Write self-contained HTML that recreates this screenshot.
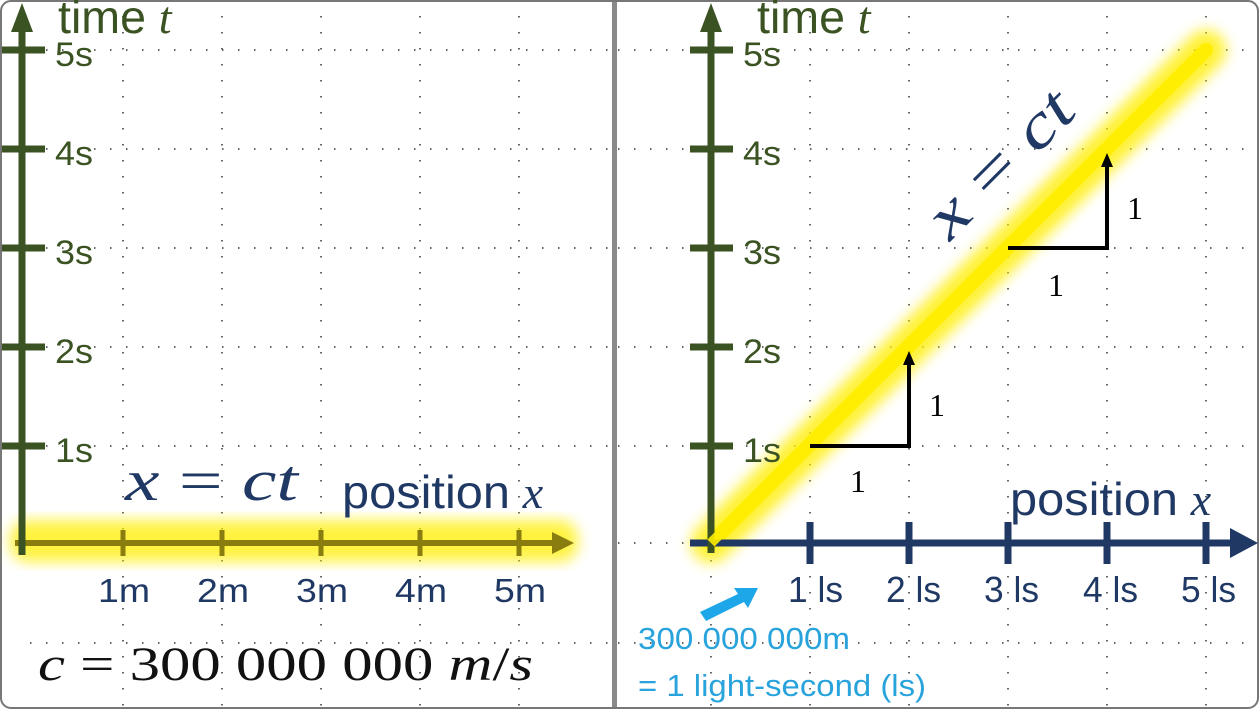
<!DOCTYPE html>
<html><head><meta charset="utf-8"><style>
html,body{margin:0;padding:0;background:#fff;}
svg{display:block;}
</style></head><body>
<svg width="1259" height="709" viewBox="0 0 1259 709" xmlns="http://www.w3.org/2000/svg" font-family="Liberation Sans, sans-serif">
<defs>
<filter id="blur" x="-20%" y="-20%" width="140%" height="140%"><feGaussianBlur stdDeviation="7"/></filter>
<marker id="ah" markerWidth="14" markerHeight="14" refX="7" refY="7" orient="auto" markerUnits="userSpaceOnUse"><path d="M0,1 L14,7 L0,13 z" fill="#000"/></marker>
</defs>
<rect width="1259" height="709" fill="#fff"/>
<g stroke="#666" stroke-width="2" stroke-dasharray="1.5 14.5">
 <path d="M123,0V709 M222,0V709 M321,0V709 M420,0V709 M519,0V709"/>
 <path d="M30,50H612 M30,149H612 M30,248H612 M30,347H612 M30,446H612 M30,643H612"/>
 <path d="M711,0V709 M810,0V709 M909,0V709 M1008,0V709 M1107,0V709 M1206,0V709"/>
 <path d="M618,50H1259 M618,149H1259 M618,248H1259 M618,347H1259 M618,446H1259 M618,643H1259 M618,543H700"/>
</g>
<rect x="612" y="0" width="5" height="709" fill="#8a8a8a"/>
<rect x="1" y="1" width="1257" height="707" rx="10" fill="none" stroke="#777" stroke-width="2"/>

<!-- LEFT PANEL -->
<rect x="10" y="520" width="568" height="42" rx="18" fill="#ffee00" opacity="0.75" filter="url(#blur)"/>
<line x1="15" y1="543" x2="555" y2="543" stroke="#8a7d10" stroke-width="6"/>
<path d="M552,532 L574,543 L552,554 z" fill="#8a7d10"/>
<g stroke="#8a7d10" stroke-width="5"><path d="M123,530V556 M222,530V556 M321,530V556 M420,530V556 M519,530V556"/></g>
<line x1="22" y1="25" x2="22" y2="555" stroke="#3b5323" stroke-width="7"/>
<path d="M11,32 L22,3 L33,32 z" fill="#3b5323"/>
<g stroke="#3b5323" stroke-width="7"><path d="M2,50H45 M2,149H45 M2,248H45 M2,347H45 M2,446H45"/></g>
<g fill="#3b5323" font-size="34">
<text x="58" y="33" font-size="46"><tspan textLength="88" lengthAdjust="spacingAndGlyphs">time</tspan> <tspan font-family="Liberation Serif, serif" font-style="italic">t</tspan></text>
<text x="55" y="66" textLength="38" lengthAdjust="spacingAndGlyphs">5s</text>
<text x="55" y="165" textLength="38" lengthAdjust="spacingAndGlyphs">4s</text>
<text x="55" y="264" textLength="38" lengthAdjust="spacingAndGlyphs">3s</text>
<text x="55" y="363" textLength="38" lengthAdjust="spacingAndGlyphs">2s</text>
<text x="55" y="462" textLength="38" lengthAdjust="spacingAndGlyphs">1s</text>
</g>
<g fill="#1f3864" font-size="33">
<text x="98" y="602" textLength="52" lengthAdjust="spacingAndGlyphs">1m</text>
<text x="197" y="602" textLength="52" lengthAdjust="spacingAndGlyphs">2m</text>
<text x="296" y="602" textLength="52" lengthAdjust="spacingAndGlyphs">3m</text>
<text x="395" y="602" textLength="52" lengthAdjust="spacingAndGlyphs">4m</text>
<text x="494" y="602" textLength="52" lengthAdjust="spacingAndGlyphs">5m</text>
<text x="342" y="508" font-size="46"><tspan textLength="168" lengthAdjust="spacingAndGlyphs">position</tspan> <tspan font-family="Liberation Serif, serif" font-style="italic">x</tspan></text>
</g>
<text x="125" y="500" font-family="Liberation Serif, serif" font-size="58" fill="#1f3864" textLength="173" lengthAdjust="spacingAndGlyphs"><tspan font-style="italic">x</tspan> = <tspan font-style="italic">ct</tspan></text>
<text x="38" y="680" font-family="Liberation Serif, serif" font-size="48" fill="#111" textLength="495" lengthAdjust="spacingAndGlyphs"><tspan font-style="italic">c</tspan> = 300 000 000 <tspan font-style="italic">m</tspan>/<tspan font-style="italic">s</tspan></text>

<!-- RIGHT PANEL -->
<line x1="711" y1="543" x2="1206" y2="50" stroke="#ffee00" stroke-width="40" stroke-linecap="round" opacity="0.8" filter="url(#blur)"/>
<line x1="711" y1="543" x2="1206" y2="50" stroke="#ffee00" stroke-width="14" stroke-linecap="round"/>
<line x1="690" y1="543" x2="1235" y2="543" stroke="#1f3864" stroke-width="7"/>
<path d="M1230,528 L1258,543 L1230,558 z" fill="#1f3864"/>
<g stroke="#1f3864" stroke-width="7"><path d="M810,522V564 M909,522V564 M1008,522V564 M1107,522V564 M1206,522V564"/></g>
<line x1="711" y1="25" x2="711" y2="553" stroke="#3b5323" stroke-width="7"/>
<path d="M700,32 L711,3 L722,32 z" fill="#3b5323"/>
<g stroke="#3b5323" stroke-width="7"><path d="M690,50H733 M690,149H733 M690,248H733 M690,347H733 M690,446H733"/></g>
<line x1="711" y1="543" x2="735" y2="519" stroke="#ffee00" stroke-width="10" opacity="0.9"/>
<g fill="#3b5323" font-size="34">
<text x="757" y="33" font-size="46"><tspan textLength="88" lengthAdjust="spacingAndGlyphs">time</tspan> <tspan font-family="Liberation Serif, serif" font-style="italic">t</tspan></text>
<text x="743" y="66" textLength="38" lengthAdjust="spacingAndGlyphs">5s</text>
<text x="743" y="165" textLength="38" lengthAdjust="spacingAndGlyphs">4s</text>
<text x="743" y="264" textLength="38" lengthAdjust="spacingAndGlyphs">3s</text>
<text x="743" y="363" textLength="38" lengthAdjust="spacingAndGlyphs">2s</text>
<text x="743" y="462" textLength="38" lengthAdjust="spacingAndGlyphs">1s</text>
</g>
<g fill="#1f3864" font-size="36">
<text x="788" y="602" textLength="55" lengthAdjust="spacingAndGlyphs">1 ls</text>
<text x="886" y="602" textLength="55" lengthAdjust="spacingAndGlyphs">2 ls</text>
<text x="984" y="602" textLength="55" lengthAdjust="spacingAndGlyphs">3 ls</text>
<text x="1083" y="602" textLength="55" lengthAdjust="spacingAndGlyphs">4 ls</text>
<text x="1181" y="602" textLength="55" lengthAdjust="spacingAndGlyphs">5 ls</text>
<text x="1010" y="515" font-size="46"><tspan textLength="168" lengthAdjust="spacingAndGlyphs">position</tspan> <tspan font-family="Liberation Serif, serif" font-style="italic">x</tspan></text>
</g>
<text transform="translate(950,242) rotate(-45)" font-family="Liberation Serif, serif" font-size="62" fill="#1f3864" textLength="182" lengthAdjust="spacingAndGlyphs"><tspan font-style="italic">x</tspan> = <tspan font-style="italic">ct</tspan></text>
<g stroke="#000" stroke-width="4" fill="none">
<path d="M810,446H909V358" marker-end="url(#ah)"/>
<path d="M1008,248H1107V160" marker-end="url(#ah)"/>
</g>
<g font-family="Liberation Serif, serif" font-size="32" fill="#000">
<text x="850" y="492">1</text><text x="929" y="416">1</text>
<text x="1048" y="296">1</text><text x="1127" y="219">1</text>
</g>
<path d="M700,612 L738,594 L734,588 L758,588 L748,608 L744,602 L706,621 z" fill="#1ea7e8"/>
<g fill="#29a3dc" font-size="31">
<text x="638" y="649" textLength="212" lengthAdjust="spacingAndGlyphs">300 000 000m</text>
<text x="638" y="696" textLength="288" lengthAdjust="spacingAndGlyphs">= 1 light-second (ls)</text>
</g>
</svg>
</body></html>
